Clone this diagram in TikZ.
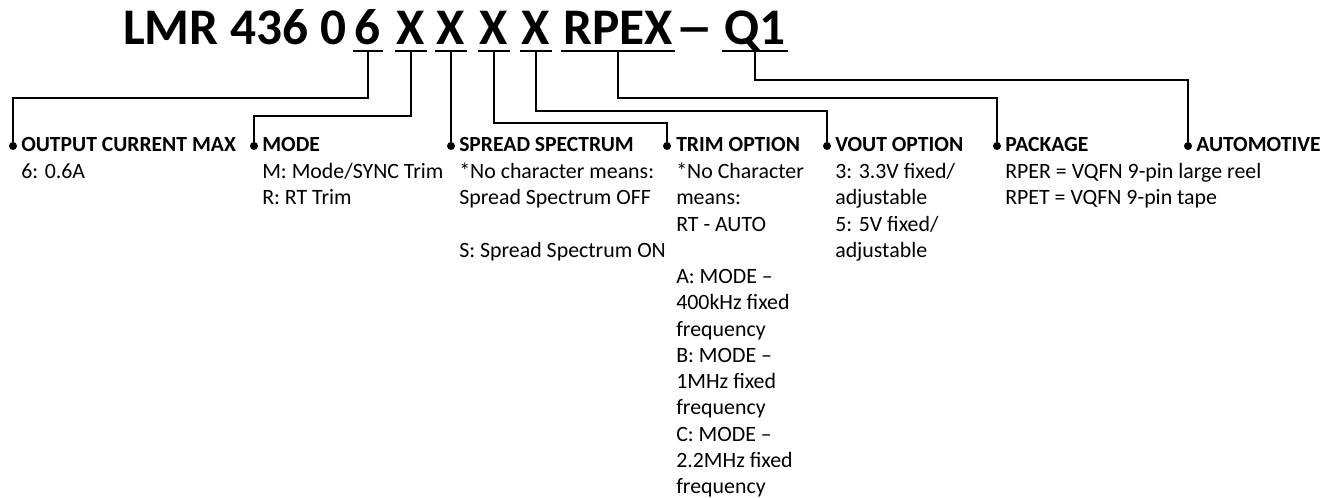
\documentclass[tikz,border=0pt]{standalone}
\usepackage{fontspec}
\setmainfont{Carlito}
\newcommand\bodytab[1]{\begin{tabular}[t]{@{}l@{}}#1\end{tabular}}
\begin{document}
\begin{tikzpicture}[x=0.75pt,y=-0.75pt,
  conn/.style={line width=2.2pt},
  uline/.style={line width=2pt},
  tok/.style={font=\fontsize{38.5}{46}\selectfont\bfseries, inner xsep=1.5pt, inner ysep=0pt, anchor=base},
  dotn/.style={circle, fill, inner sep=0pt, minimum size=6pt},
  head/.style={font=\fontsize{16.2}{19.5}\selectfont\bfseries, inner sep=0pt, anchor=base west},
  body/.style={font=\fontsize{16.4}{19.7}\selectfont, inner sep=0pt, anchor=base west}]
\useasboundingbox (0,0) rectangle (1334,498);
\coordinate (ul) at (0,51);
\coordinate (lA) at (0,98);
\coordinate (lB) at (0,116);
\coordinate (lC) at (0,123);
\coordinate (lD) at (0,111);
\coordinate (lE) at (0,80);
% title tokens
\node[tok, anchor=base west] (tlmr) at (121,45) {LMR 436 0};
\node[tok] (t6) at (368,45) {6};
\node[tok] (tx1) at (411,45) {X};
\node[tok] (tx2) at (451,45) {X};
\node[tok] (tx3) at (494,45) {X};
\node[tok] (tx4) at (536,45) {X};
\node[tok] (trp) at (618,45) {RPEX};
\node[tok] (tdash) at (695,45) {\scalebox{1.5}[1]{–}};
\node[tok] (tq) at (755,45) {Q1};
\foreach \t in {t6,tx1,tx2,tx3,tx4,trp,tq}
  \draw[uline] (\t.west |- ul) -- (\t.east |- ul);
% dots
\node[dotn] (d1) at (13,146) {};
\node[dotn] (d2) at (254,146) {};
\node[dotn] (d3) at (451,146) {};
\node[dotn] (d4) at (667,146) {};
\node[dotn] (d5) at (827,146) {};
\node[dotn] (d6) at (997,146) {};
\node[dotn] (d7) at (1188,146) {};
% headers
\node[head] (h1) at (21,152) {OUTPUT CURRENT MAX};
\node[head] (h2) at (262,152) {MODE};
\node[head] (h3) at (459,152) {SPREAD SPECTRUM};
\node[head] (h4) at (676,152) {TRIM OPTION};
\node[head] (h5) at (835,152) {VOUT OPTION};
\node[head] (h6) at (1005,152) {PACKAGE};
\node[head] (h7) at (1196,152) {AUTOMOTIVE};
% bodies (first baseline at y=178)
\node[body] (b1) at (21,178.5) {\bodytab{6: 0.6A}};
\node[body] (b2) at (262,178.5) {\bodytab{M: Mode/SYNC Trim\\R: RT Trim}};
\node[body] (b3) at (459,178.5) {\bodytab{*No character means:\\Spread Spectrum OFF\\ \\S: Spread Spectrum ON}};
\node[body] (b4) at (676,178.5) {\bodytab{*No Character\\means:\\RT - AUTO\\ \\A: MODE –\\400kHz fixed\\frequency\\B: MODE –\\1MHz fixed\\frequency\\C: MODE –\\2.2MHz fixed\\frequency}};
\node[body] (b5) at (835,178.5) {\bodytab{3: 3.3V fixed/\\adjustable\\5: 5V fixed/\\adjustable}};
\node[body] (b6) at (1005,178.5) {\bodytab{RPER = VQFN 9-pin large reel\\RPET = VQFN 9-pin tape}};
% connectors
\draw[conn] (t6 |- ul) -- (t6 |- lA) -| (d1);
\draw[conn] (tx1 |- ul) -- (tx1 |- lB) -| (d2);
\draw[conn] (tx2 |- ul) -- (d3);
\draw[conn] (tx3 |- ul) -- (tx3 |- lC) -| (d4);
\draw[conn] (tx4 |- ul) -- (tx4 |- lD) -| (d5);
\draw[conn] (trp |- ul) -- (trp |- lA) -| (d6);
\draw[conn] (tq |- ul) -- (tq |- lE) -| (d7);
\end{tikzpicture}
\end{document}
